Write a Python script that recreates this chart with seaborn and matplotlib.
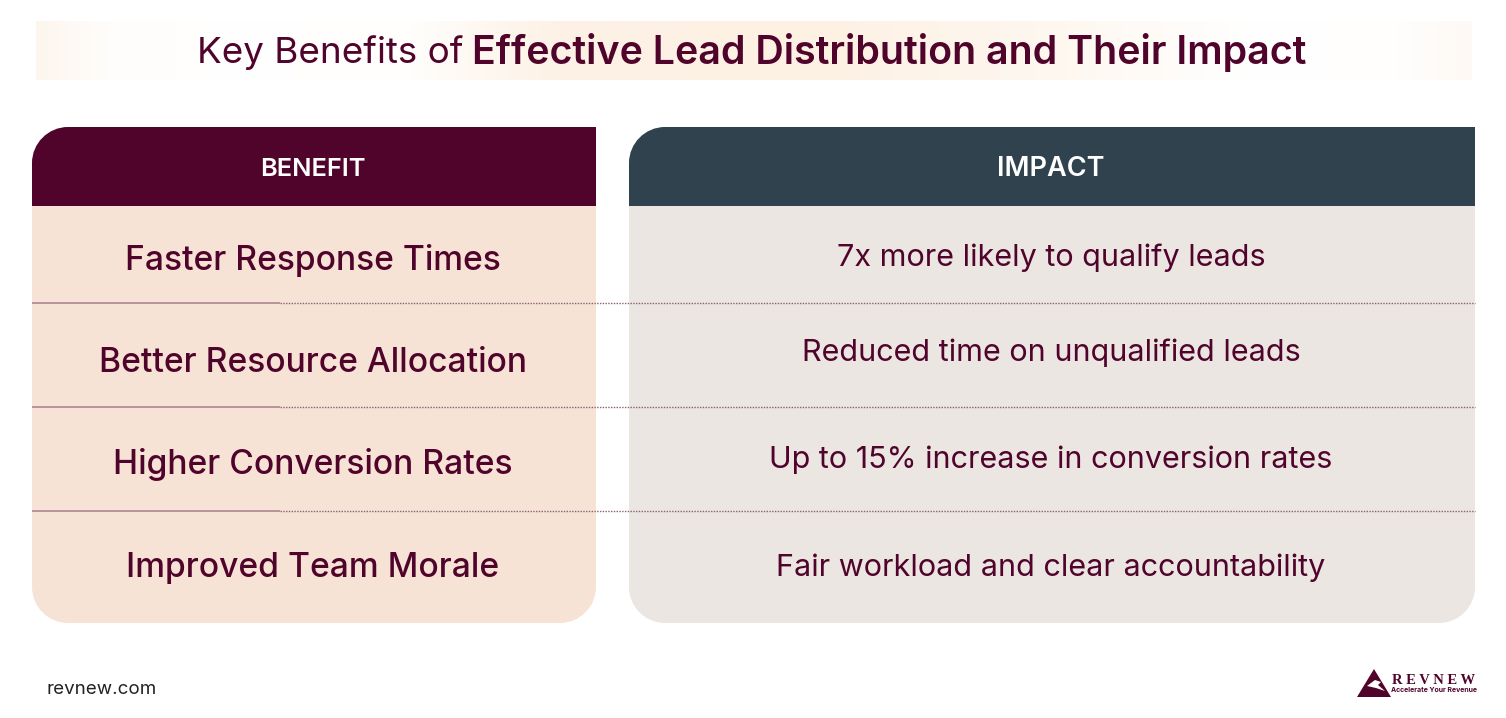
import numpy as np
import matplotlib
matplotlib.use("Agg")
import matplotlib.pyplot as plt
import seaborn as sns
from matplotlib.colors import LinearSegmentedColormap
from matplotlib.patches import PathPatch, Polygon
from matplotlib.path import Path

title_regular = "Key Benefits of "
title_bold = "Effective Lead Distribution and Their Impact"
header_left = "BENEFIT"
header_right = "IMPACT"
benefits = ["Faster Response Times", "Better Resource Allocation",
            "Higher Conversion Rates", "Improved Team Morale"]
impacts = ["7x more likely to qualify leads", "Reduced time on unqualified leads",
           "Up to 15% increase in conversion rates", "Fair workload and clear accountability"]
footer = "revnew.com"
logo_name = "R E V N E W"
logo_tag = "Accelerate Your Revenue"

sns.set_theme(style="white")
plt.rcParams['font.family'] = ['Inter', 'DejaVu Sans']

MAROON = "#50042b"
SLATE = "#2f424d"
fig = plt.figure(figsize=(15.06, 7.18), dpi=100, facecolor="white")
ax = fig.add_axes([0, 0, 1, 1])
ax.set_xlim(0, 1506); ax.set_ylim(718, 0); ax.axis("off")


def rounded(x0, y0, x1, y1, tl=0, tr=0, br=0, bl=0, **kw):
    k = 0.45
    v = [(x0 + tl, y0), (x1 - tr, y0), (x1 - tr * k, y0), (x1, y0 + tr * k), (x1, y0 + tr),
         (x1, y1 - br), (x1, y1 - br * k), (x1 - br * k, y1), (x1 - br, y1),
         (x0 + bl, y1), (x0 + bl * k, y1), (x0, y1 - bl * k), (x0, y1 - bl),
         (x0, y0 + tl), (x0, y0 + tl * k), (x0 + tl * k, y0), (x0 + tl, y0), (x0 + tl, y0)]
    c = [Path.MOVETO, Path.LINETO, Path.CURVE4, Path.CURVE4, Path.CURVE4,
         Path.LINETO, Path.CURVE4, Path.CURVE4, Path.CURVE4,
         Path.LINETO, Path.CURVE4, Path.CURVE4, Path.CURVE4,
         Path.LINETO, Path.CURVE4, Path.CURVE4, Path.CURVE4, Path.CLOSEPOLY]
    ax.add_patch(PathPatch(Path(v, c), lw=0, **kw))


# title band
cmap = LinearSegmentedColormap.from_list("band", [
    (0.0, "#fdf6ee"), (0.05, "#fffdfb"), (0.14, "#ffffff"), (0.26, "#fffefc"),
    (0.36, "#fdf2e6"), (0.55, "#fdf1e4"), (0.72, "#fef8f1"), (0.85, "#ffffff"),
    (0.95, "#fffefd"), (1.0, "#fef9f4")])
ax.imshow(np.linspace(0, 1, 512)[None, :], cmap=cmap, extent=(36, 1472, 80, 21), aspect="auto", zorder=0)
ax.set_xlim(0, 1506); ax.set_ylim(718, 0)

# panels
rounded(32, 205, 596, 623, br=36, bl=36, facecolor="#f6e3d6", zorder=1)
rounded(629, 205, 1475, 623, br=36, bl=36, facecolor="#ebe6e2", zorder=1)
rounded(32, 127, 596, 206, tl=36, facecolor=MAROON, zorder=2)
rounded(629, 127, 1475, 206, tl=36, facecolor=SLATE, zorder=2)

# separators
for y in (303, 407, 511):
    ax.plot([32, 280], [y, y], color="#b48c96", lw=1.3, zorder=3, solid_capstyle="butt")
    ax.plot([280, 1475], [y, y], color="#8a6070", lw=1.0, ls=(0, (1, 1)), zorder=3)

ax.text(197, 49, title_regular, fontsize=26.5, color=MAROON, va="center_baseline", ha="left")
ax.text(472, 49, title_bold, fontsize=28.3, color=MAROON, fontweight="semibold", va="center_baseline", ha="left")
ax.text(313, 167, header_left, fontsize=18.3, color="white", fontweight="semibold", ha="center", va="center_baseline", zorder=4)
ax.text(1051, 166, header_right, fontsize=19.5, color="white", fontweight="semibold", ha="center", va="center_baseline", zorder=4)

left_y = [257, 360, 461, 564]
right_y = [255, 350, 457, 565]
for t, y in zip(benefits, left_y):
    ax.text(313, y, t, fontsize=24.2, color=MAROON, fontweight="medium", ha="center", va="center_baseline", zorder=4)
for t, y in zip(impacts, right_y):
    ax.text(1051, y, t, fontsize=22, color=MAROON, ha="center", va="center_baseline", zorder=4)

ax.text(47, 688, footer, fontsize=13.5, color="#222222", va="center_baseline", ha="left")

# logo
ax.add_patch(Polygon([(1357, 697), (1374, 669), (1391, 697)], closed=True, facecolor=MAROON, lw=0, zorder=4))
ax.add_patch(Polygon([(1367, 686), (1375, 680), (1381, 682), (1378, 685), (1385, 691), (1376, 688)],
                     closed=True, facecolor="white", lw=0, zorder=5))
ax.text(1392, 680, logo_name, fontsize=10.5, color=MAROON, family="Liberation Serif", fontweight="bold", va="center", ha="left")
ax.text(1391, 689.5, logo_tag, fontsize=5.0, color=MAROON, fontweight="bold", va="center", ha="left")

fig.savefig("out.png", dpi=100)
